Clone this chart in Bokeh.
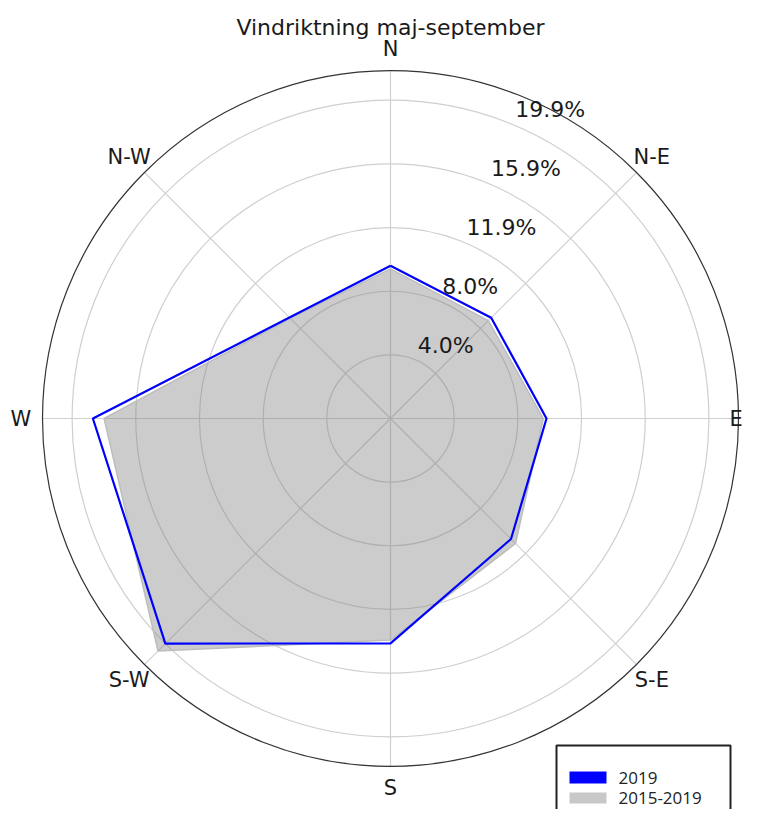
import numpy as np
from bokeh.plotting import figure
from bokeh.models import Range1d, ColumnDataSource
from bokeh.core.properties import value
from bokeh.embed import file_html
from bokeh.resources import INLINE

# ---------------- data ----------------
title = "Vindriktning maj-september"
directions = ["N", "N-E", "E", "S-E", "S", "S-W", "W", "N-W"]
values_2019 = [9.55, 8.9, 9.75, 10.65, 14.05, 19.9, 18.6, 8.93]
values_avg = [9.35, 8.65, 9.55, 11.05, 13.85, 20.55, 17.9, 8.85]
series_labels = ["2019", "2015-2019"]
ring_values = [3.98, 7.96, 11.94, 15.92, 19.9]
r_max = 21.75

# ---------------- layout ----------------
S = 16.0            # pixels per percent
W, H = 748, 809
CX, CY = 390, 418   # polar centre inside the frame (px from left / top)


def pg(px, py):
    """picture pixel position -> data coordinates"""
    return (px - CX) / S, (CY - py) / S


p = figure(width=W, height=H, output_backend="svg", toolbar_location=None,
           x_range=Range1d(-CX / S, (W - CX) / S),
           y_range=Range1d(-(H - CY) / S, CY / S),
           min_border=0, background_fill_color="white", border_fill_color="white")
p.axis.visible = False
p.grid.visible = False
p.outline_line_color = None

theta = np.deg2rad(np.arange(len(directions)) * 45.0)
sin_t, cos_t = np.sin(theta), np.cos(theta)

# grid rings
p.circle(x=[0] * len(ring_values), y=[0] * len(ring_values), radius=ring_values,
         fill_color=None, line_color="#cfcfcf", line_width=1.2)
# spokes
p.segment(x0=[0] * 8, y0=[0] * 8, x1=list(r_max * sin_t), y1=list(r_max * cos_t),
          line_color="#cfcfcf", line_width=1.2)

# average series (filled)
va = np.array(values_avg)
p.patch(x=list(va * sin_t), y=list(va * cos_t), fill_color="gray", fill_alpha=0.4,
        line_color="#bdbdbd", line_width=1.5)

# 2019 series (line)
v19 = np.array(values_2019)
xs = list(v19 * sin_t) + [v19[0] * sin_t[0]]
ys = list(v19 * cos_t) + [v19[0] * cos_t[0]]
p.line(x=xs, y=ys, line_color="#0000ff", line_width=2.2)

# outer circle
p.circle(x=[0], y=[0], radius=[r_max], fill_color=None, line_color="#333333", line_width=1.2)

# radial tick labels
rl_ang = np.deg2rad(22.5)
p.text(x=[r * np.sin(rl_ang) for r in ring_values], y=[r * np.cos(rl_ang) for r in ring_values],
       text=[f"{r:.1f}%" for r in ring_values], text_align="left", text_baseline="bottom",
       x_offset=3, y_offset=-2, text_font=value("DejaVu Sans"), text_font_size="22px",
       text_color="#1a1a1a")

# direction labels
lab_r = 23.1
x_off = [0, 0, -24, 0, 0, 0, 0, 0]   # keep "E" inside the page edge
dsrc = ColumnDataSource(dict(x=list(lab_r * sin_t), y=list(lab_r * cos_t),
                             text=directions, xo=x_off))
p.text(x="x", y="y", text="text", x_offset="xo", source=dsrc,
       text_align="center", text_baseline="middle", text_font=value("DejaVu Sans"),
       text_font_size="21px", text_color="#1a1a1a")

# title
tx, ty = pg(390, 27)
p.text(x=[tx], y=[ty], text=[title], text_align="center", text_baseline="alphabetic",
       text_font=value("DejaVu Sans"), text_font_size="22px", text_color="#1a1a1a")

# legend (drawn by hand to match the boxed style)
l0, t0 = pg(556, 745)
r0, b0 = pg(730, 870)
p.quad(left=[l0], right=[r0], top=[t0], bottom=[b0], fill_color="white",
       line_color="#222222", line_width=2)
sw_colors = ["#0000ff", "#c8c8c8"]
sw_top = [771, 792]
sw_bot = [783, 803]
for lab, col, st, sb in zip(series_labels, sw_colors, sw_top, sw_bot):
    a, t = pg(569, st)
    b, bt = pg(606, sb)
    p.quad(left=[a], right=[b], top=[t], bottom=[bt], fill_color=col, line_color=None)
    lx, ly = pg(618, (st + sb) / 2)
    p.text(x=[lx], y=[ly], text=[lab], text_align="left", text_baseline="middle",
           text_font=value("Open Sans"), text_font_size="17px", text_color="#222222")

open("out.html", "w").write(file_html(p, INLINE))
